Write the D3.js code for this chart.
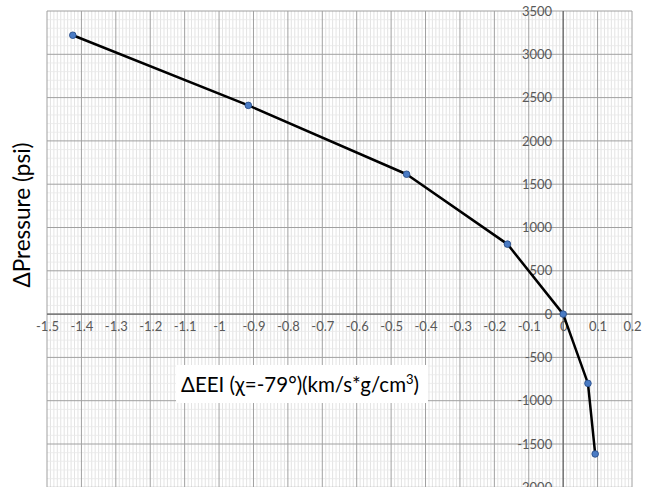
<!DOCTYPE html>
<html>
<head>
<meta charset="utf-8">
<script src="https://cdn.jsdelivr.net/npm/d3@7"></script>
<style>
  html, body { margin: 0; padding: 0; background: #fff; }
  svg { display: block; }
</style>
</head>
<body>
<svg id="chart" width="652" height="487"></svg>
<script>
// Data
const deltaEEI = [-1.425, -0.915, -0.455, -0.162, 0, 0.072, 0.093];
const deltaPressure = [3220, 2410, 1615, 808, 0, -800, -1615];
const xTickValues = [-1.5, -1.4, -1.3, -1.2, -1.1, -1, -0.9, -0.8, -0.7, -0.6, -0.5, -0.4, -0.3, -0.2, -0.1, 0, 0.1, 0.2];
const yTickValues = [-2000, -1500, -1000, -500, 0, 500, 1000, 1500, 2000, 2500, 3000, 3500];
const xTitle = "ΔEEI (χ=-79°)(km/s*g/cm";
const xTitleSup = "3";
const xTitleEnd = ")";
const yTitle = "ΔPressure (psi)";

(function () {
const svg = d3.select("#chart");
const pLeft = 47, pRight = 632, pTop = 11;
const x = d3.scaleLinear().domain([-1.5, 0.2]).range([pLeft, pRight]);
const y = d3.scaleLinear().domain([-2000, 3500]).range([pTop + 43.3 * 11, pTop]);
const pBottom = y(-2000);

const font = "Lato, 'Open Sans', sans-serif";

// minor vertical grid (0.01)
const minorX = d3.range(-150, 21).filter(d => d % 10 !== 0).map(d => d / 100);
svg.append("g").selectAll("line").data(minorX).join("line")
  .attr("x1", d => x(d)).attr("x2", d => x(d))
  .attr("y1", pTop).attr("y2", pBottom)
  .attr("stroke", "#dcdcdc").attr("stroke-width", 0.8);

// minor horizontal grid (100)
const minorY = d3.range(-2000, 3501, 100).filter(d => d % 500 !== 0);
svg.append("g").selectAll("line").data(minorY).join("line")
  .attr("x1", pLeft).attr("x2", pRight)
  .attr("y1", d => y(d)).attr("y2", d => y(d))
  .attr("stroke", "#e8e8e8").attr("stroke-width", 0.8);

// major grid
svg.append("g").selectAll("line").data(xTickValues).join("line")
  .attr("x1", d => x(d)).attr("x2", d => x(d))
  .attr("y1", pTop).attr("y2", pBottom)
  .attr("stroke", "#a0a0a0").attr("stroke-width", 1);
svg.append("g").selectAll("line").data(yTickValues).join("line")
  .attr("x1", pLeft).attr("x2", pRight)
  .attr("y1", d => y(d)).attr("y2", d => y(d))
  .attr("stroke", "#a0a0a0").attr("stroke-width", 1);

// axes lines through zero
svg.append("line").attr("x1", pLeft).attr("x2", pRight).attr("y1", y(0)).attr("y2", y(0))
  .attr("stroke", "#666").attr("stroke-width", 1.2);
svg.append("line").attr("x1", x(0)).attr("x2", x(0)).attr("y1", pTop).attr("y2", pBottom)
  .attr("stroke", "#666").attr("stroke-width", 1.2);

// x tick labels using d3 axis
const xAxis = d3.axisBottom(x).tickValues(xTickValues).tickSize(0).tickPadding(0)
  .tickFormat(d => String(+d.toFixed(1)));
const gx = svg.append("g").attr("transform", `translate(0,${y(0) + 12})`).call(xAxis);
gx.select(".domain").remove();
gx.selectAll("text").attr("font-family", font).attr("font-size", 13).attr("fill", "#595959")
  .attr("dy", "0.35em");

// y tick labels
const yAxis = d3.axisLeft(y).tickValues(yTickValues).tickSize(0).tickPadding(0)
  .tickFormat(d => String(d));
const gy = svg.append("g").attr("transform", `translate(${x(0) - 11},0)`).call(yAxis);
gy.select(".domain").remove();
gy.selectAll("text").attr("font-family", font).attr("font-size", 13).attr("fill", "#595959");

// line
const pts = deltaEEI.map((d, i) => [d, deltaPressure[i]]);
svg.append("path").datum(pts)
  .attr("d", d3.line().x(d => x(d[0])).y(d => y(d[1])))
  .attr("fill", "none").attr("stroke", "#000").attr("stroke-width", 2.5)
  .attr("stroke-linejoin", "round");
svg.append("g").selectAll("circle").data(pts).join("circle")
  .attr("cx", d => x(d[0])).attr("cy", d => y(d[1])).attr("r", 3.3)
  .attr("fill", "#4a7bc4").attr("stroke", "#2a4f8a").attr("stroke-width", 0.9);

// x title with white box
const tg = svg.append("g");
tg.append("rect").attr("x", 176).attr("y", 365).attr("width", 252).attr("height", 38).attr("fill", "#fff");
const tt = tg.append("text").attr("x", 181).attr("y", 392)
  .attr("font-family", font).attr("font-size", 20.5).attr("fill", "#000");
tt.append("tspan").text(xTitle);
tt.append("tspan").attr("font-size", 13).attr("dy", -8).text(xTitleSup);
tt.append("tspan").attr("dy", 8).text(xTitleEnd);

// y title
svg.append("text").attr("transform", "translate(30,215) rotate(-90)")
  .attr("text-anchor", "middle").attr("font-family", font).attr("font-size", 22.5)
  .attr("fill", "#000").text(yTitle);
})();
</script>
</body>
</html>
